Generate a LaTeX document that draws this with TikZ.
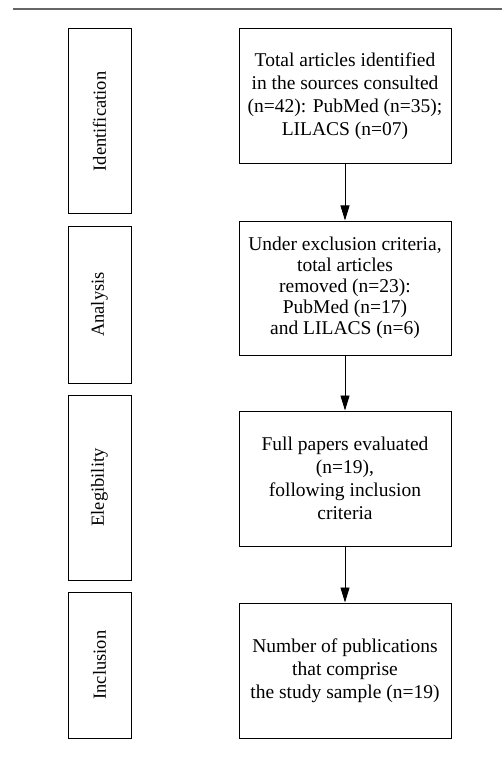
\documentclass[tikz,border=0pt]{standalone}
\usepackage{fontspec}
\setmainfont{Liberation Serif}
\usetikzlibrary{arrows.meta}
\begin{document}
\begin{tikzpicture}[x=1pt,y=-1pt,
  stagebox/.style={draw=black,line width=1pt,minimum width=63pt,inner sep=0pt,
    font=\fontsize{18.5}{22}\selectfont},
  flowbox/.style={draw=black,line width=1pt,minimum width=212pt,minimum height=135pt,
    inner sep=2pt,align=center,font=\fontsize{19.5}{23}\selectfont},
  flowarrow/.style={draw=black,line width=0.9pt,-{Triangle[width=9pt,length=15pt]}}]
\useasboundingbox (0,0) rectangle (502,759);
\coordinate (rulestart) at (13,9);
\coordinate (ruleend) at (502,9);
\draw[line width=1.5pt,black!60] (rulestart) -- (ruleend);
% stage boxes
\node[stagebox,minimum height=185pt] (ident) at (99.5,121.5) {\rotatebox{90}{Identification}};
\node[stagebox,minimum height=157pt] (anal) at (99.5,304.5) {\rotatebox{90}{Analysis}};
\node[stagebox,minimum height=185pt] (elig) at (99.5,487.5) {\rotatebox{90}{Elegibility}};
\node[stagebox,minimum height=146pt] (incl) at (99.5,665) {\rotatebox{90}{Inclusion}};
% flow boxes
\node[flowbox] (b1) at (345,96.5) {Total articles identified\\in the sources consulted\\(n=42): PubMed (n=35);\\LILACS (n=07)};
\node[flowbox,minimum height=134pt,font=\fontsize{19.5}{21}\selectfont] (b2) at (345,288) {Under exclusion criteria,\\total articles\\removed (n=23):\\PubMed (n=17)\\and LILACS (n=6)};
\node[flowbox] (b3) at (345,478.5) {Full papers evaluated\\(n=19),\\following inclusion\\criteria};
\node[flowbox] (b4) at (345,670.5) {Number of publications\\that comprise\\the study sample (n=19)};
\draw[flowarrow] (b1) -- (b2);
\draw[flowarrow] (b2) -- (b3);
\draw[flowarrow] (b3) -- (b4);
\end{tikzpicture}
\end{document}
